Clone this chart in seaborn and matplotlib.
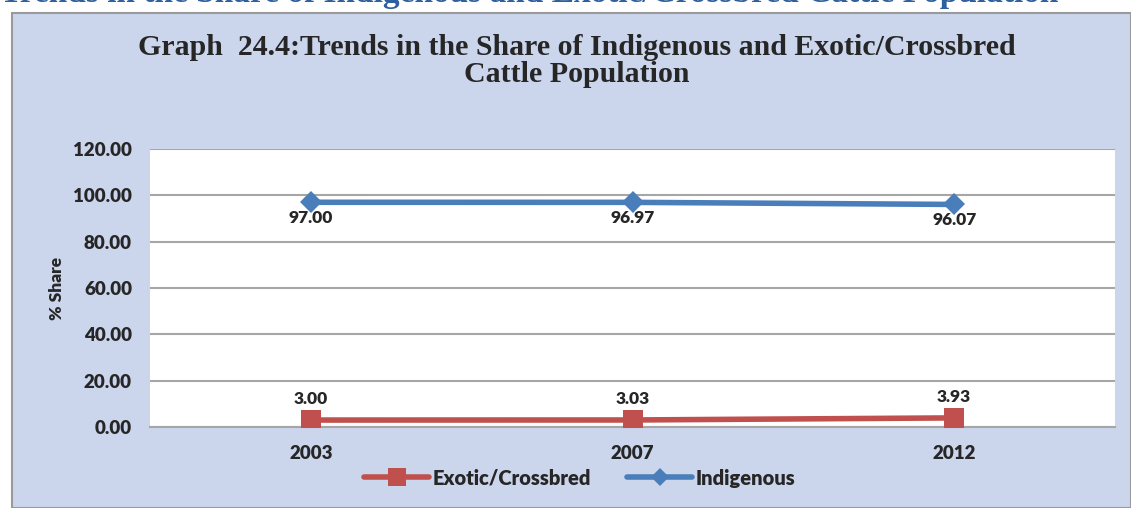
import numpy as np
import pandas as pd
import matplotlib
matplotlib.use('Agg')
import matplotlib.pyplot as plt
import seaborn as sns
from matplotlib.patches import Rectangle
from matplotlib.lines import Line2D

years = ['2003', '2007', '2012']
indigenous = [97.00, 96.97, 96.07]
exotic = [3.00, 3.03, 3.93]
y_ticks = [0, 20, 40, 60, 80, 100, 120]

bg = '#cbd5ec'
blue = '#4a7ebb'
red = '#c0504d'
txt = '#262626'

sns.set_theme(style='white')
plt.rcParams['font.family'] = ['Lato', 'DejaVu Sans']

df = pd.DataFrame({
    'pos': list(range(len(years))) * 2,
    'share': exotic + indigenous,
    'series': ['Exotic/Crossbred'] * 3 + ['Indigenous'] * 3,
})

fig = plt.figure(figsize=(11.31, 5.08), dpi=100)
fig.patch.set_facecolor('white')

# textured chart area (solid approximation) with grey border
fig.patches.append(Rectangle((12 / 1131, 0), 1 - 12 / 1131, (508 - 13) / 508,
                             transform=fig.transFigure, facecolor=bg,
                             edgecolor='#9a9a9a', linewidth=1.5, zorder=-5))

# heading from the page above, cut off at the top
fig.text(0.0, (508 - 2) / 508,
         'Trends in the Share of Indigenous and Exotic/Crossbred Cattle Population',
         family='Liberation Serif', fontweight='bold', fontsize=24,
         color='#2e5f9e', ha='left', va='baseline')

ax = fig.add_axes([150 / 1131, (508 - 427) / 508, 965 / 1131, (427 - 149) / 508])
ax.set_zorder(2)
ax.set_facecolor('white')

sns.lineplot(data=df[df.series == 'Exotic/Crossbred'], x='pos', y='share', ax=ax,
             color=red, linewidth=4, marker='s', markersize=14,
             markeredgewidth=0, legend=False, zorder=3)
sns.lineplot(data=df[df.series == 'Indigenous'], x='pos', y='share', ax=ax,
             color=blue, linewidth=4, marker='D', markersize=11,
             markeredgewidth=0, legend=False, zorder=3)

for i, v in enumerate(indigenous):
    ax.annotate(f'{v:.2f}', (i, v), xytext=(0, -11.5), textcoords='offset points',
                ha='center', va='center', fontsize=12.5, fontweight='heavy', color=txt)
for i, v in enumerate(exotic):
    ax.annotate(f'{v:.2f}', (i, v), xytext=(0, 15), textcoords='offset points',
                ha='center', va='center', fontsize=12.5, fontweight='heavy', color=txt)

ax.set_xlim(-0.5, 2.5)
ax.set_ylim(0, 120)
ax.set_yticks(y_ticks)
ax.set_yticklabels([f'{t:.2f}' for t in y_ticks])
ax.set_xticks(range(len(years)))
ax.set_xticklabels(years)
ax.tick_params(axis='both', labelsize=13.5, colors=txt, length=0, pad=13)
for lab in ax.get_xticklabels() + ax.get_yticklabels():
    lab.set_fontweight('heavy')
ax.grid(axis='y', color='#a6a6a6', linewidth=1.5)
ax.set_axisbelow(True)
for s in ['top', 'left', 'right']:
    ax.spines[s].set_visible(False)
ax.spines['bottom'].set_color('#a6a6a6')
ax.spines['bottom'].set_linewidth(1.5)
ax.set_xlabel('')
ax.set_ylabel('')

fig.text(57 / 1131, 1 - 288 / 508, '% Share', rotation=90, ha='center', va='center',
         fontsize=12.5, fontweight='heavy', color=txt)

fig.text(577 / 1131, 1 - 47 / 508,
         'Graph  24.4:Trends in the Share of Indigenous and Exotic/Crossbred',
         family='Liberation Serif', fontweight='bold', fontsize=21.5,
         color=txt, ha='center', va='center')
fig.text(577 / 1131, 1 - 74 / 508, 'Cattle Population',
         family='Liberation Serif', fontweight='bold', fontsize=21.5,
         color=txt, ha='center', va='center')

handles = [
    Line2D([], [], color=red, linewidth=4, marker='s', markersize=13, markeredgewidth=0),
    Line2D([], [], color=blue, linewidth=4, marker='D', markersize=9, markeredgewidth=0),
]
leg = fig.legend(handles, ['Exotic/Crossbred', 'Indigenous'], loc='center',
                 bbox_to_anchor=(580 / 1131, 1 - 478 / 508), ncol=2, frameon=False,
                 handlelength=3.2, handletextpad=0.2, columnspacing=1.8,
                 prop={'size': 14.5, 'weight': 'heavy'})
for t in leg.get_texts():
    t.set_color(txt)

fig.savefig('out.png', dpi=100)
